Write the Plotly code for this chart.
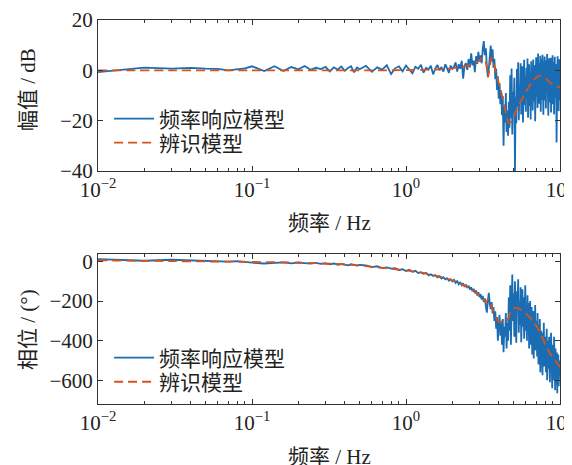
import plotly.graph_objects as go

# ---------------- data ----------------
freq = ([0.01, 0.02, 0.03, 0.04, 0.05, 0.06, 0.07, 0.08, 0.09, 0.10] +
        [0.12, 0.14, 0.16, 0.18, 0.20, 0.22, 0.24, 0.26, 0.28, 0.30,
         0.32, 0.34, 0.36, 0.38, 0.40, 0.42, 0.44, 0.46, 0.48, 0.50] +
        [0.55, 0.60, 0.65, 0.70, 0.75, 0.80, 0.85, 0.90, 0.95, 1.00,
         1.05, 1.10, 1.15, 1.20, 1.25, 1.30, 1.35, 1.40, 1.45, 1.50,
         1.55, 1.60, 1.65, 1.70, 1.75, 1.80, 1.85, 1.90, 1.95, 2.00] +
        [2.05, 2.10, 2.15, 2.20, 2.25, 2.30, 2.35, 2.40, 2.45, 2.50,
         2.55, 2.60, 2.65, 2.70, 2.75, 2.80, 2.85, 2.90, 2.95, 3.00,
         3.05, 3.10, 3.15, 3.20, 3.25, 3.30, 3.35, 3.40, 3.45, 3.50,
         3.55, 3.60, 3.65, 3.70, 3.75, 3.80, 3.85, 3.90, 3.95, 4.00,
         4.05, 4.10, 4.15, 4.20, 4.25, 4.30, 4.35, 4.40, 4.45, 4.50,
         4.55, 4.60, 4.65, 4.70, 4.75, 4.80, 4.85, 4.90, 4.95, 5.00,
         5.05, 5.10, 5.15, 5.20, 5.25, 5.30, 5.35, 5.40, 5.45, 5.50,
         5.55, 5.60, 5.65, 5.70, 5.75, 5.80, 5.85, 5.90, 5.95, 6.00,
         6.05, 6.10, 6.15, 6.20, 6.25, 6.30, 6.35, 6.40, 6.45, 6.50,
         6.55, 6.60, 6.65, 6.70, 6.75, 6.80, 6.85, 6.90, 6.95, 7.00,
         7.05, 7.10, 7.15, 7.20, 7.25, 7.30, 7.35, 7.40, 7.45, 7.50,
         7.55, 7.60, 7.65, 7.70, 7.75, 7.80, 7.85, 7.90, 7.95, 8.00,
         8.05, 8.10, 8.15, 8.20, 8.25, 8.30, 8.35, 8.40, 8.45, 8.50,
         8.55, 8.60, 8.65, 8.70, 8.75, 8.80, 8.85, 8.90, 8.95, 9.00,
         9.05, 9.10, 9.15, 9.20, 9.25, 9.30, 9.35, 9.40, 9.45, 9.50,
         9.55, 9.60, 9.65, 9.70, 9.75, 9.80, 9.85, 9.90, 9.95, 10.00])

# measured frequency response magnitude (dB)
mag_meas = ([-0.7, 1.1, 0.7, 1.0, 0.7, 0.6, 0.0, 0.4, 0.8, 1.6] +
            [-0.3, 1.6, -0.3, 1.3, 0.4, 1.7, 0.2, 1.0, 0.5, 1.4,
             -0.4, 1.2, 0.3, 1.5, -0.2, 0.9, 1.6, -0.8, 1.1, 0.4] +
            [1.8, -0.6, 1.2, 0.3, 2.0, -1.5, 0.8, 1.6, -0.4, 1.9,
             0.2, -1.2, 1.4, 0.6, 2.2, -0.9, 1.0, 0.3, 1.8, -1.6,
             0.7, 2.1, 0.0, 1.3, -0.5, 2.4, 0.8, -1.0, 1.9, 0.6] +
            [1.5, 3.2, -0.5, 2.4, 0.6, 3.8, -3.3, 1.9, 2.8, 0.2,
             4.5, 1.2, 6.8, 2.0, 3.9, -0.7, 5.6, 2.6, 7.3, 3.4,
             5.9, 2.8, 8.5, 11.6, 6.0, 8.8, 1.5, -2.5, 0.8, 4.2,
             9.8, 3.5, 8.4, 1.0, 4.6, -3.5, 0.7, -7.8, -2.4, -11.3,
             -5.0, -13.5, -8.0, -17.8, -10.2, -30.0, -14.6, -20.7, -9.0, -24.5,
             -16.0, -26.0, -12.5, -22.8, -2.0, -19.0, 0.7, -25.5, -8.5, -17.0,
             -3.0, -40.7, -10.5, -21.0, 0.5, -14.5, 3.2, -19.8, -6.5, -12.7,
             2.8, -17.5, -4.0, 1.6, -20.7, -8.2, 4.2, -13.8, -2.5, -16.5,
             0.9, -11.0, 4.7, -18.8, -5.5, 2.4, -14.2, -1.0, -19.5, 3.6,
             -9.3, 0.2, -16.0, 4.3, -6.8, -12.4, 2.0, -20.2, -3.4, 5.2,
             -10.5, 1.4, -15.0, 6.7, -4.2, -13.3, 3.0, -8.8, 5.8, -16.5,
             -1.5, 4.5, -11.8, 6.2, -6.0, -17.6, 3.4, -2.8, 5.5, -12.0,
             0.8, -15.2, 4.0, -7.4, 6.5, -10.6, 2.2, -18.0, -3.5, 4.8,
             -12.8, 1.0, -6.2, 5.0, -16.8, -2.0, 3.6, -9.5, 6.0, -13.5,
             -4.5, 3.3, -17.5, 0.2, 5.4, -11.2, -2.0, 2.5, -7.8, -28.7,
             -14.6, -1.2, 5.6, -9.0, 2.8, -16.2, -5.0, 4.4, -12.0, -3.5])

# measured frequency response phase (deg)
phase_meas = ([12, 4, 9, 6, 3, 4, 0, 2, -3, -6] +
              [-10, -6, -4, -9, -5, -8, -11, -7, -12, -9,
               -14, -10, -16, -12, -15, -19, -14, -18, -21, -17] +
              [-20, -28, -24, -33, -30, -36, -34, -44, -39, -48,
               -42, -52, -47, -58, -54, -62, -57, -70, -64, -73,
               -69, -80, -74, -86, -79, -90, -84, -97, -90, -100] +
              [-92, -108, -99, -115, -104, -120, -110, -128, -117, -133,
               -122, -141, -130, -150, -138, -160, -146, -172, -155, -180,
               -165, -192, -174, -205, -186, -225, -258, -198, -158, -215,
               -240, -205, -262, -230, -300, -252, -340, -280, -400, -310,
               -270, -375, -300, -420, -290, -458, -330, -380, -260, -440,
               -310, -400, -180, -350, -120, -420, -210, -66, -300, -160,
               -380, -100, -290, -410, -150, -240, -90, -360, -200, -320,
               -130, -408, -250, -140, -330, -180, -390, -230, -120, -350,
               -260, -400, -170, -310, -210, -440, -280, -200, -420, -300,
               -230, -470, -320, -250, -490, -290, -380, -220, -450, -340,
               -300, -480, -260, -400, -520, -320, -440, -290, -560, -380,
               -350, -500, -420, -575, -360, -460, -310, -530, -420, -480,
               -380, -560, -440, -340, -600, -470, -400, -540, -450, -380,
               -520, -610, -430, -500, -360, -580, -470, -640, -420, -550,
               -480, -600, -380, -560, -500, -650, -440, -580, -520, -620,
               -460, -666, -540, -600, -470, -630, -520, -580, -500, -560])

# identified model
freq_model = [0.01, 0.03, 0.1, 0.2, 0.3, 0.5, 0.7, 1.0, 1.5, 2.0, 2.4, 2.7,
              3.0, 3.17, 3.3, 3.41, 3.5, 3.6, 3.7, 3.85, 4.0, 4.2, 4.4, 4.55,
              4.66, 4.8, 5.0, 5.2, 5.6, 6.08, 6.6, 7.2, 7.7, 8.2, 8.55, 9.2, 10.0]
mag_model = [0.0, 0.0, 0.0, 0.0, 0.0, 0.0, 0.0, 0.1, 0.3, 0.8, 1.6, 2.5,
             4.0, 5.0, 3.0, -2.7, 1.5, 5.0, 3.5, -1.5, -5.0, -10.0, -15.5, -19.5,
             -21.0, -20.5, -18.5, -16.0, -12.0, -8.0, -4.5, -2.3, -2.2, -3.5, -4.7, -6.0, -6.7]
phase_model = [6, 2, -2, -6, -10, -20, -32, -45, -68, -95, -122, -145,
               -172, -190, -206, -190, -205, -230, -255, -285, -303, -308, -306, -296,
               -280, -250, -238, -233, -245, -267, -295, -340, -385, -435, -460, -495, -533]

x_ticks = [0.01, 0.1, 1, 10]
x_ticktext = ["10<sup>−2</sup>", "10<sup>−1</sup>", "10<sup>0</sup>", "10<sup>1</sup>"]
x_minor = [m * d for d in [0.01, 0.1, 1] for m in range(2, 10)]
mag_ticks = [-40, -20, 0, 20]
phase_ticks = [-600, -400, -200, 0]

BLUE = "#1b6db3"
ORANGE = "#d95319"
FONT = "'Liberation Serif', 'Times New Roman', 'Noto Sans CJK SC', serif"
TXT = "#222"
FS = 21

fig = go.Figure()
panels = [("x", "y", mag_meas, mag_model, "legend", "legend2"),
          ("x2", "y2", phase_meas, phase_model, "legend3", "legend4")]
for xa, ya, yvals, ymod, leg_a, leg_b in panels:
    fig.add_trace(go.Scatter(x=freq, y=yvals, mode="lines", name="频率响应模型",
                             line=dict(color=BLUE, width=1.8), xaxis=xa, yaxis=ya,
                             legend=leg_a, showlegend=True))
    fig.add_trace(go.Scatter(x=freq_model, y=ymod, mode="lines", name="辨识模型",
                             line=dict(color=ORANGE, width=1.8, dash="9px,5px", shape="spline"),
                             xaxis=xa, yaxis=ya, legend=leg_b, showlegend=True))

axis_common = dict(showline=True, linecolor="#333", linewidth=1, mirror="ticks",
                   ticks="inside", tickcolor="#333", ticklen=5, showgrid=False,
                   zeroline=False, automargin=False,
                   tickfont=dict(family=FONT, size=FS, color=TXT))
xcommon = dict(axis_common, type="log", range=[-2, 1], tickvals=x_ticks,
               ticktext=x_ticktext, ticklabeloverflow="allow",
               minor=dict(tickvals=x_minor, ticks="inside", ticklen=3, tickcolor="#333"))

legend_common = dict(xanchor="left", yanchor="middle", bgcolor="rgba(0,0,0,0)",
                     font=dict(family=FONT, size=FS, color=TXT), tracegroupgap=0,
                     itemwidth=40, x=0.024, visible=True)

# page has an 8px body margin, so the figure is drawn 8px lower and to the right
fig.update_layout(
    width=564, height=457,
    margin=dict(l=90, r=12, t=12, b=61),
    paper_bgcolor="white", plot_bgcolor="white",
    showlegend=True,
    font=dict(family=FONT, size=FS, color=TXT),
    xaxis=dict(xcommon, domain=[0, 1], anchor="y"),
    yaxis=dict(axis_common, domain=[0.6068, 1], range=[-40, 20], tickvals=mag_ticks,
               anchor="x"),
    xaxis2=dict(xcommon, domain=[0, 1], anchor="y2"),
    yaxis2=dict(axis_common, domain=[0, 0.3906], range=[-720, 38], tickvals=phase_ticks,
                anchor="x2"),
    legend=dict(legend_common, y=0.742),
    legend2=dict(legend_common, y=0.680),
    legend3=dict(legend_common, y=0.120),
    legend4=dict(legend_common, y=0.057),
    annotations=[
        dict(text="幅值 / dB", x=-0.1515, y=0.8177, xref="paper", yref="paper",
             textangle=-90, showarrow=False, xanchor="center", yanchor="middle",
             font=dict(family=FONT, size=FS, color=TXT)),
        dict(text="相位 / (°)", x=-0.1515, y=0.1927, xref="paper", yref="paper",
             textangle=-90, showarrow=False, xanchor="center", yanchor="middle",
             font=dict(family=FONT, size=FS, color=TXT)),
        dict(text="频率 / Hz", x=0.5, y=0.472, xref="paper", yref="paper",
             showarrow=False, xanchor="center", yanchor="middle",
             font=dict(family=FONT, size=FS, color=TXT)),
        dict(text="频率 / Hz", x=0.5, y=-0.138, xref="paper", yref="paper",
             showarrow=False, xanchor="center", yanchor="middle",
             font=dict(family=FONT, size=FS, color=TXT)),
    ],
)

fig.write_html("out.html")
